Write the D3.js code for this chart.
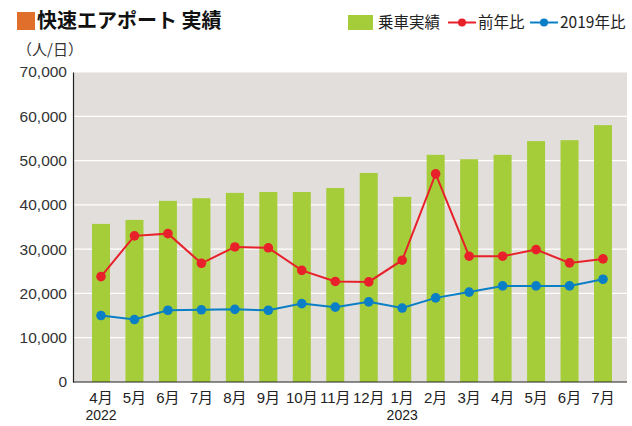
<!DOCTYPE html>
<html>
<head>
<meta charset="utf-8">
<script src="https://cdn.jsdelivr.net/npm/d3@7.9.0/dist/d3.min.js"></script>
<style>
  body { margin: 0; background: #fff; }
  svg { display: block; font-family: "Liberation Sans", "Noto Sans CJK JP", sans-serif; }
</style>
</head>
<body>
<svg id="chart" width="632" height="426"></svg>
<script>
const months = ['4月','5月','6月','7月','8月','9月','10月','11月','12月','1月','2月','3月','4月','5月','6月','7月'];
const years = [{ idx: 0, label: '2022' }, { idx: 9, label: '2023' }];
const riders = [35700, 36600, 40900, 41500, 42700, 42900, 42900, 43800, 47200, 41800, 51300, 50300, 51300, 54400, 54600, 58000];
// lines are drawn against the same left scale, as in the source
const yoy = [23800, 33000, 33500, 26800, 30500, 30300, 25200, 22700, 22600, 27500, 47000, 28400, 28400, 29900, 26900, 27800];
const vs2019 = [15000, 14100, 16200, 16300, 16400, 16200, 17700, 16900, 18100, 16700, 19000, 20300, 21700, 21700, 21700, 23200];
const yTicks = [0, 10000, 20000, 30000, 40000, 50000, 60000, 70000];

const svg = d3.select('#chart');
const plot = { left: 73, right: 627, top: 72, bottom: 382 };

const x = d3.scalePoint().domain(d3.range(months.length)).range([101, 603]);
const y = d3.scaleLinear().domain([0, 70000]).range([plot.bottom, plot.top]);
const barW = 18;

// background + grid
svg.append('rect')
  .attr('x', plot.left).attr('y', plot.top)
  .attr('width', plot.right - plot.left).attr('height', plot.bottom - plot.top)
  .attr('fill', '#e2dedb');

svg.append('g').selectAll('line')
  .data(yTicks.filter(d => d > 0))
  .join('line')
  .attr('x1', plot.left).attr('x2', plot.right)
  .attr('y1', d => y(d)).attr('y2', d => y(d))
  .attr('stroke', '#fff').attr('stroke-width', 1.2);

// bars
svg.append('g').selectAll('rect')
  .data(riders)
  .join('rect')
  .attr('x', (d, i) => x(i) - barW / 2)
  .attr('y', d => y(d))
  .attr('width', barW)
  .attr('height', d => plot.bottom - y(d))
  .attr('fill', '#a5cd39');

// axes
const yAxis = d3.axisLeft(y).tickValues(yTicks).tickSize(0).tickPadding(6).tickFormat(d3.format(','));
svg.append('g')
  .attr('transform', `translate(${plot.left},0)`)
  .call(yAxis)
  .call(g => g.select('.domain').attr('stroke', '#222').attr('stroke-width', 1.2))
  .call(g => g.selectAll('text').attr('font-size', 15.5).attr('fill', '#333'));

svg.append('line')
  .attr('x1', plot.left).attr('x2', plot.right)
  .attr('y1', plot.bottom).attr('y2', plot.bottom)
  .attr('stroke', '#222').attr('stroke-width', 1.2);

svg.append('g').selectAll('text')
  .data(months)
  .join('text')
  .attr('x', (d, i) => x(i))
  .attr('y', 403)
  .attr('text-anchor', 'middle')
  .attr('font-size', 15)
  .attr('fill', '#222')
  .text(d => d);

svg.append('g').selectAll('text')
  .data(years)
  .join('text')
  .attr('x', d => x(d.idx))
  .attr('y', 420)
  .attr('text-anchor', 'middle')
  .attr('font-size', 14)
  .attr('fill', '#222')
  .text(d => d.label);

// lines
function drawLine(values, color) {
  const line = d3.line().x((d, i) => x(i)).y(d => y(d));
  svg.append('path')
    .datum(values)
    .attr('d', line)
    .attr('fill', 'none')
    .attr('stroke', color)
    .attr('stroke-width', 2);
  svg.append('g').selectAll('circle')
    .data(values)
    .join('circle')
    .attr('cx', (d, i) => x(i))
    .attr('cy', d => y(d))
    .attr('r', 4.8)
    .attr('fill', color);
}
drawLine(yoy, '#e8202a');
drawLine(vs2019, '#0a7fc6');

// title
svg.append('rect').attr('x', 17).attr('y', 12).attr('width', 18).attr('height', 18).attr('fill', '#e06f2c');
svg.append('text')
  .attr('x', 37).attr('y', 28)
  .attr('font-size', 20).attr('font-weight', 'bold')
  .attr('font-family', '"Noto Sans CJK JP", sans-serif')
  .attr('fill', '#111')
  .text('快速エアポート 実績');

svg.append('text')
  .attr('x', 17).attr('y', 55)
  .attr('font-size', 15).attr('fill', '#333')
  .attr('font-family', '"Noto Sans CJK JP", sans-serif')
  .text('（人/日）');

// legend
const lg = svg.append('g').attr('font-family', '"Noto Sans CJK JP", sans-serif').attr('font-size', 15.5).attr('fill', '#222');
lg.append('rect').attr('x', 348).attr('y', 15).attr('width', 25).attr('height', 15).attr('fill', '#a5cd39');
lg.append('text').attr('x', 378).attr('y', 28).text('乗車実績');
[{ x0: 448, label: '前年比', color: '#e8202a' }, { x0: 530, label: '2019年比', color: '#0a7fc6' }].forEach(k => {
  lg.append('line').attr('x1', k.x0).attr('x2', k.x0 + 28).attr('y1', 22.5).attr('y2', 22.5)
    .attr('stroke', k.color).attr('stroke-width', 2);
  lg.append('circle').attr('cx', k.x0 + 14).attr('cy', 22.5).attr('r', 4).attr('fill', k.color);
  lg.append('text').attr('x', k.x0 + 30).attr('y', 28).text(k.label);
});
</script>
</body>
</html>
